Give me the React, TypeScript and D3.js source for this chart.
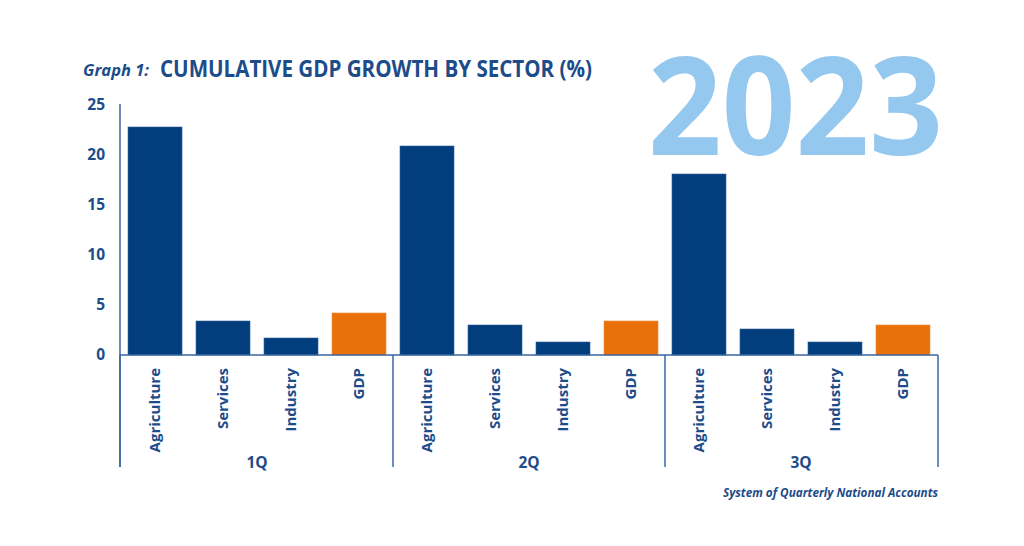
import React from "react";
import * as d3 from "d3";

const quarters = ["1Q", "2Q", "3Q"];
const sectors = ["Agriculture", "Services", "Industry", "GDP"];
const q1Values = [22.8, 3.4, 1.7, 4.2];
const q2Values = [20.9, 3.0, 1.3, 3.4];
const q3Values = [18.1, 2.6, 1.3, 3.0];
const yTicks = [0, 5, 10, 15, 20, 25];

const NAVY = "#023e7d";
const ORANGE = "#e8710a";
const TEXT = "#1d4c8a";
const LINE = "#3a66a0";
const LIGHT = "#95c8ee";
const FONT = "'Open Sans', 'Noto Sans', sans-serif";

export default function App() {
  const W = 1024, H = 546;
  const allValues = [q1Values, q2Values, q3Values];
  const rows = quarters.flatMap((q, qi) =>
    sectors.map((s, si) => ({ key: q + "-" + s, quarter: q, qi, sector: s, value: allValues[qi][si] }))
  );
  const x = d3.scaleBand<string>()
    .domain(rows.map((r) => r.key))
    .range([120, 938])
    .paddingInner(0.206)
    .paddingOuter(0.118);
  const y = d3.scaleLinear().domain([0, 25]).range([355, 105]);
  const bw = x.bandwidth();
  const gap = (x.step() - bw) / 2;
  const axisBottom = 467;

  const groupStarts = quarters.map((q) => (x(q + "-" + sectors[0]) as number) - gap);
  const groupEnds = quarters.map((q) => (x(q + "-" + sectors[sectors.length - 1]) as number) + bw + gap);
  const dividers = [120, ...groupStarts.slice(1), 938];

  return (
    <svg width={W} height={H} style={{ position: "absolute", left: 0, top: 0, background: "#fff" }}>
      <rect x={0} y={0} width={W} height={H} fill="#fff" />
      {/* 2023 */}
      <text x={648} y={155} fontFamily={FONT} fontWeight={700} fontSize={137} fill={LIGHT}
        textLength={295} lengthAdjust="spacingAndGlyphs">2023</text>
      {/* Title */}
      <text x={83} y={76} fontFamily={FONT} fontWeight={700} fontStyle="italic" fontSize={16} fill={TEXT}
        textLength={66} lengthAdjust="spacingAndGlyphs">Graph 1:</text>
      <text x={160} y={77} fontFamily={FONT} fontWeight={700} fontSize={23} fill={TEXT}
        textLength={432} lengthAdjust="spacingAndGlyphs">CUMULATIVE GDP GROWTH BY SECTOR (%)</text>

      {/* bars */}
      {rows.map((r) => (
        <rect key={r.key} x={x(r.key)} y={y(r.value)} width={bw} height={y(0) - y(r.value)}
          fill={r.sector === "GDP" ? ORANGE : NAVY} stroke={r.sector === "GDP" ? "#ef8a3a" : "#2f5f98"} strokeWidth={0.6} />
      ))}

      {/* y axis */}
      <line x1={120} x2={120} y1={104} y2={axisBottom} stroke={LINE} strokeWidth={1.5} />
      <line x1={120} x2={938} y1={y(0)} y2={y(0)} stroke={LINE} strokeWidth={1.5} />
      {yTicks.map((t) => (
        <text key={t} x={105} y={y(t)} dy="0.35em" textAnchor="end" fontFamily={FONT} fontWeight={700}
          fontSize={15.5} fill={TEXT}>{t}</text>
      ))}

      {/* group dividers */}
      {dividers.map((d, i) => (
        <line key={i} x1={d} x2={d} y1={y(0)} y2={axisBottom} stroke={LINE} strokeWidth={1.5} />
      ))}

      {/* category labels */}
      {rows.map((r) => {
        const cx = (x(r.key) as number) + bw / 2;
        return (
          <text key={r.key + "-lab"} transform={`translate(${cx},368) rotate(-90)`} textAnchor="end" dy="0.35em"
            fontFamily={FONT} fontWeight={700} fontSize={15} fill={TEXT}>{r.sector}</text>
        );
      })}

      {/* quarter labels */}
      {quarters.map((q, i) => (
        <text key={q} x={(groupStarts[i] + groupEnds[i]) / 2} y={463} dy="0.35em" textAnchor="middle"
          fontFamily={FONT} fontWeight={700} fontSize={15.5} fill={TEXT}>{q}</text>
      ))}

      {/* source */}
      <text x={938} y={497} textAnchor="end" fontFamily={FONT} fontWeight={700} fontStyle="italic" fontSize={12}
        fill={TEXT} textLength={215} lengthAdjust="spacingAndGlyphs">System of Quarterly National Accounts</text>
    </svg>
  );
}
